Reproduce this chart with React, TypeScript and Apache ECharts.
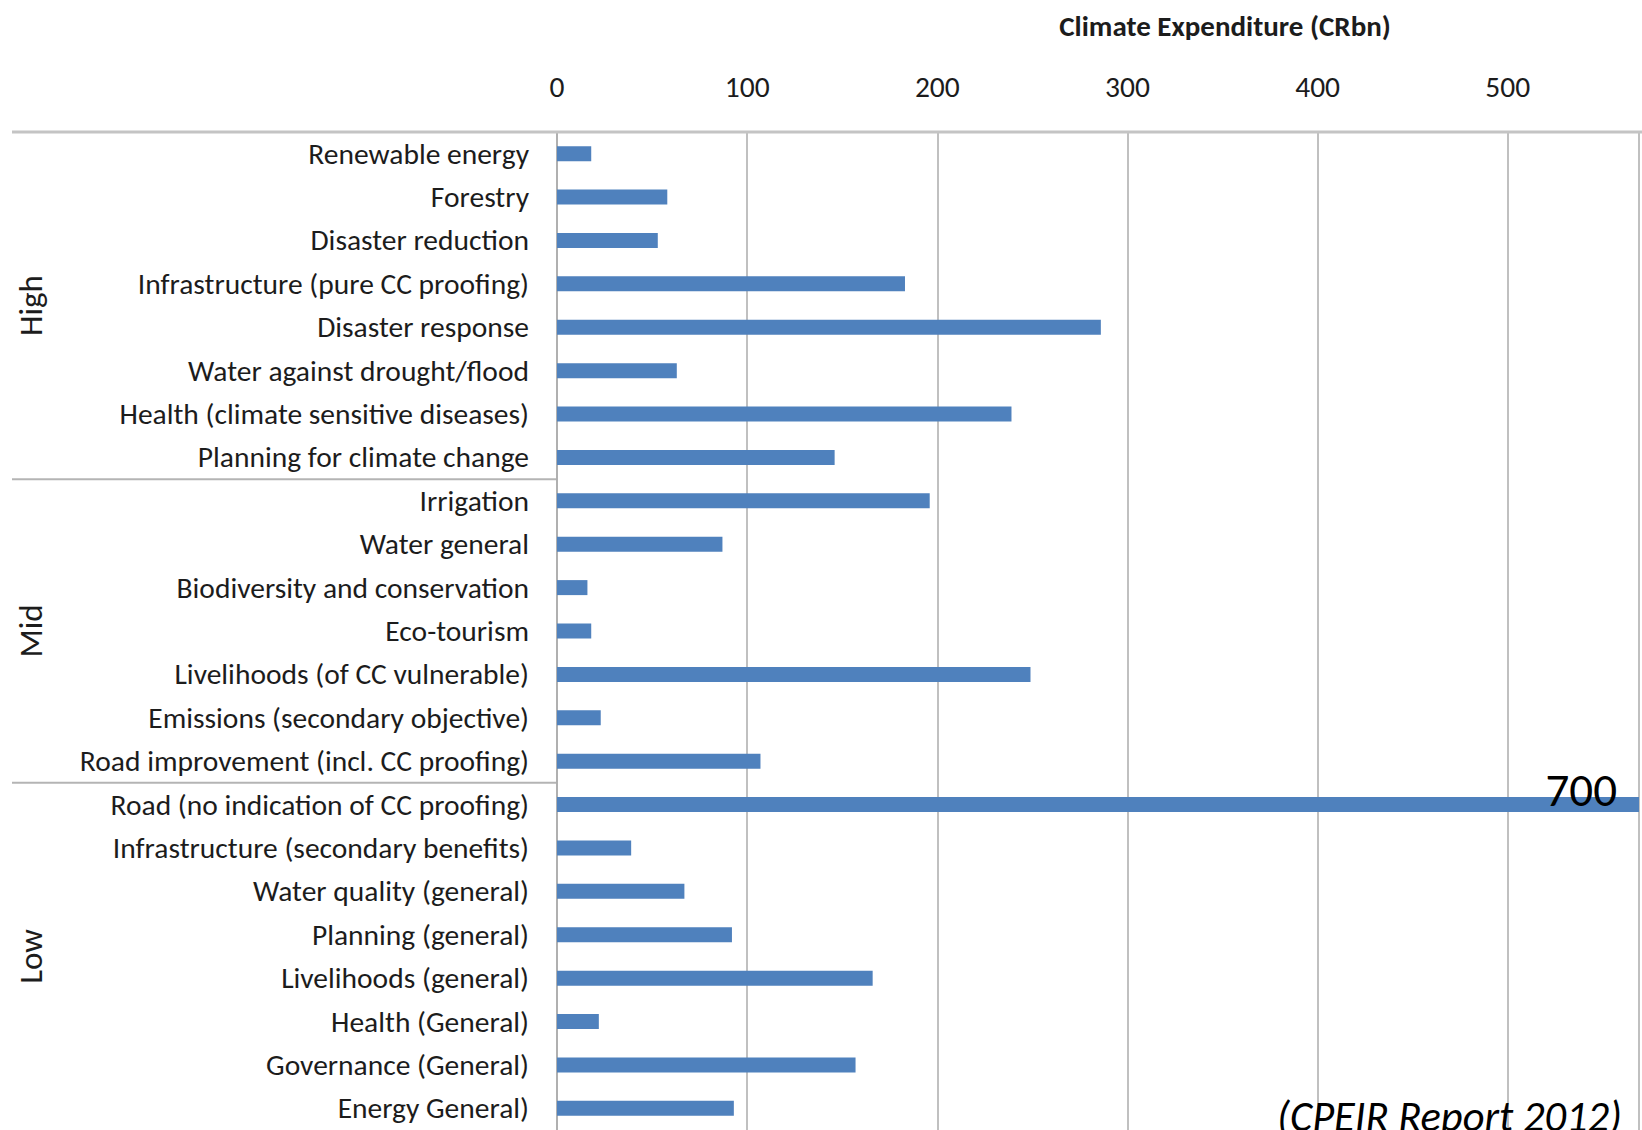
import React, { useEffect, useRef } from "react";
import * as echarts from "echarts";

const AXIS_TITLE = "Climate Expenditure (CRbn)";
const SOURCE_NOTE = "(CPEIR Report 2012)";

const categories = [
  "Renewable energy",
  "Forestry",
  "Disaster reduction",
  "Infrastructure (pure CC proofing)",
  "Disaster response",
  "Water against drought/flood",
  "Health (climate sensitive diseases)",
  "Planning for climate change",
  "Irrigation",
  "Water general",
  "Biodiversity and conservation",
  "Eco-tourism",
  "Livelihoods (of CC vulnerable)",
  "Emissions (secondary objective)",
  "Road improvement (incl. CC proofing)",
  "Road (no indication of CC proofing)",
  "Infrastructure (secondary benefits)",
  "Water quality (general)",
  "Planning (general)",
  "Livelihoods (general)",
  "Health (General)",
  "Governance (General)",
  "Energy General)",
];

const values = [
  18, 58, 53, 183, 286, 63, 239, 146,
  196, 87, 16, 18, 249, 23, 107,
  700, 39, 67, 92, 166, 22, 157, 93,
];

const groups = ["High", "Mid", "Low"];
const groupSizes = [8, 7, 8];
const labelledValue = 700;

const AXIS_MIN = 0;
const AXIS_MAX = 569;
const AXIS_STEP = 100;

export default function App() {
  const ref = useRef<HTMLDivElement>(null);

  useEffect(() => {
    if (!ref.current) return;
    const chart = echarts.init(ref.current, null, { renderer: "svg" });
    const font = "Carlito, Lato, 'Open Sans', sans-serif";
    const textColor = "#1c1c1c";
    const gridColor = "#ababab";
    const gridTop = 132;
    const bandH = 43.6;

    chart.setOption({
      animation: false,
      backgroundColor: "#ffffff",
      title: {
        text: AXIS_TITLE,
        left: 1220,
        top: 6,
        textAlign: "center",
        textStyle: { fontFamily: font, fontWeight: "bold", fontSize: 29, color: textColor },
      },
      grid: { left: 557, top: gridTop, right: 0, height: bandH * categories.length },
      xAxis: {
        type: "value",
        position: "top",
        min: AXIS_MIN,
        max: AXIS_MAX,
        interval: AXIS_STEP,
        axisLine: { show: false },
        axisTick: { show: false },
        axisLabel: {
          fontFamily: font,
          fontSize: 29.5,
          color: textColor,
          margin: 30,
          formatter: (v: number) => (v % AXIS_STEP === 0 ? String(v) : ""),
        },
        splitLine: { show: true, lineStyle: { color: gridColor, width: 1.5 } },
      },
      yAxis: {
        type: "category",
        inverse: true,
        data: categories,
        axisLine: { show: true, lineStyle: { color: gridColor, width: 1.5 } },
        axisTick: { show: false },
        axisLabel: { fontFamily: font, fontSize: 29.5, color: textColor, margin: 28 },
        splitLine: { show: false },
      },
      series: [
        {
          type: "bar",
          clip: true,
          barWidth: 15,
          itemStyle: { color: "#4f81bd" },
          data: values.map((v) =>
            v === labelledValue
              ? {
                  value: v,
                  label: {
                    show: true,
                    position: "insideRight",
                    distance: 22,
                    offset: [0, -15],
                    formatter: "{c}",
                    fontFamily: font,
                    fontSize: 47,
                    color: "#000000",
                  },
                }
              : v
          ),
        },
      ],
    });

    const py = (i: number) => chart.convertToPixel({ yAxisIndex: 0 }, categories[i]) as number;
    const graphics: any[] = [
      {
        type: "line",
        shape: { x1: 12, y1: gridTop, x2: 1642, y2: gridTop },
        style: { stroke: "#c4c4c4", lineWidth: 3 },
        z: 10,
      },
    ];
    let start = 0;
    groups.forEach((g, gi) => {
      const end = start + groupSizes[gi] - 1;
      const cy = (py(start) + py(end)) / 2;
      graphics.push({
        type: "text",
        x: 31,
        y: cy,
        rotation: Math.PI / 2,
        style: {
          text: g,
          fontFamily: font,
          fontSize: 33,
          fill: textColor,
          align: "center",
          verticalAlign: "middle",
        },
      });
      if (gi < groups.length - 1) {
        const sy = (py(end) + py(end + 1)) / 2;
        graphics.push({
          type: "line",
          shape: { x1: 12, y1: sy, x2: 557, y2: sy },
          style: { stroke: "#b4b4b4", lineWidth: 2 },
        });
      }
      start = end + 1;
    });
    graphics.push({
      type: "text",
      x: 1622,
      y: 1095,
      style: {
        text: SOURCE_NOTE,
        fontFamily: font,
        fontStyle: "italic",
        fontSize: 42.5,
        fill: "#000000",
        align: "right",
        verticalAlign: "top",
      },
    });
    chart.setOption({ graphic: graphics });

    return () => chart.dispose();
  }, []);

  return (
    <div
      ref={ref}
      style={{
        position: "fixed",
        left: 0,
        top: 0,
        width: 1642,
        height: 1130,
        overflow: "hidden",
        background: "#ffffff",
      }}
    />
  );
}
